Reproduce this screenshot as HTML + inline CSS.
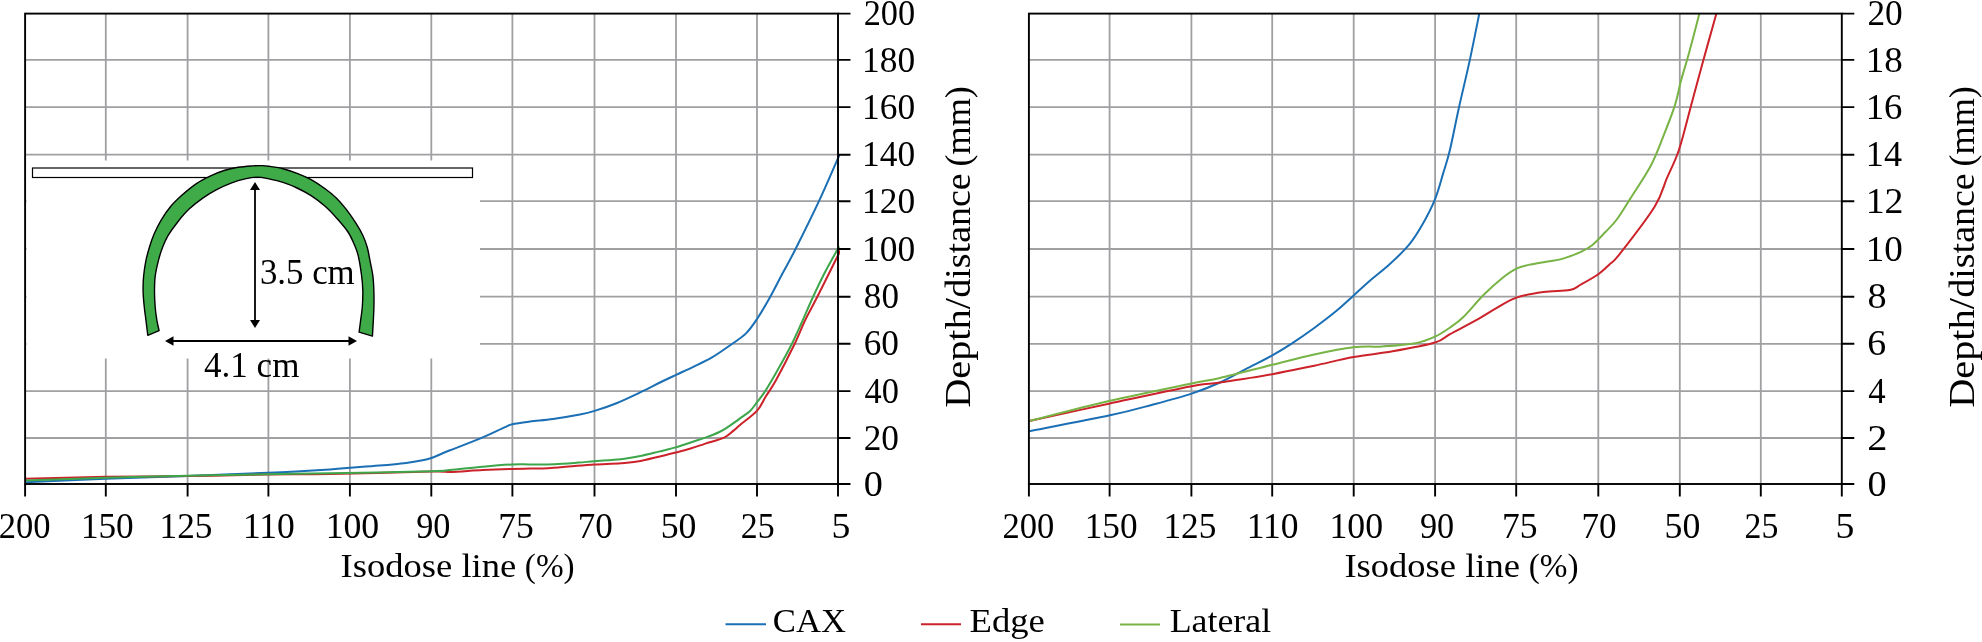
<!DOCTYPE html>
<html><head><meta charset="utf-8"><style>
html,body{margin:0;padding:0;background:#fff;width:1982px;height:642px;overflow:hidden}
svg{display:block;will-change:transform}
text{font-family:"Liberation Serif",serif}
</style></head><body>
<svg width="1982" height="642" viewBox="0 0 1982 642">
<rect width="1982" height="642" fill="#fff"/>
<path d="M105.80,13.6V484.0M187.60,13.6V484.0M268.40,13.6V484.0M349.90,13.6V484.0M431.30,13.6V484.0M512.40,13.6V484.0M594.50,13.6V484.0M676.00,13.6V484.0M757.00,13.6V484.0M25.1,438.00H838.0M25.1,391.15H838.0M25.1,343.80H838.0M25.1,296.70H838.0M25.1,249.00H838.0M25.1,201.20H838.0M25.1,154.70H838.0M25.1,107.10H838.0M25.1,59.90H838.0" stroke="#a0a0a3" stroke-width="1.8" fill="none"/>
<path d="M1109.60,13.6V484.0M1191.40,13.6V484.0M1272.20,13.6V484.0M1353.70,13.6V484.0M1435.10,13.6V484.0M1516.20,13.6V484.0M1598.30,13.6V484.0M1679.80,13.6V484.0M1760.80,13.6V484.0M1028.9,438.00H1841.8M1028.9,391.15H1841.8M1028.9,343.80H1841.8M1028.9,296.70H1841.8M1028.9,249.00H1841.8M1028.9,201.20H1841.8M1028.9,154.70H1841.8M1028.9,107.10H1841.8M1028.9,59.90H1841.8" stroke="#a0a0a3" stroke-width="1.8" fill="none"/>
<rect x="26.5" y="160.5" width="453.5" height="198" fill="#fff"/>
<clipPath id="cL"><rect x="25.1" y="13.6" width="814.9" height="470.4"/></clipPath>
<clipPath id="cR"><rect x="1028.9" y="13.6" width="812.8999999999999" height="470.4"/></clipPath>
<g clip-path="url(#cL)" fill="none" stroke-width="2.0" stroke-linejoin="round"><path d="M25.00,482.20 C38.50,481.63 78.83,479.83 106.00,478.80 C133.17,477.77 161.00,477.00 188.00,476.00 C215.00,475.00 244.33,473.90 268.00,472.80 C291.67,471.70 316.33,470.23 330.00,469.40 C343.67,468.57 341.82,468.43 350.00,467.80 C358.18,467.17 369.72,466.42 379.10,465.60 C388.48,464.78 399.03,463.80 406.30,462.90 C413.57,462.00 418.52,461.02 422.70,460.20 C426.88,459.38 426.85,459.65 431.40,458.00 C435.95,456.35 441.82,453.57 450.00,450.30 C458.18,447.03 471.42,442.22 480.50,438.40 C489.58,434.58 499.20,429.77 504.50,427.40 C509.80,425.03 508.05,425.18 512.30,424.20 C516.55,423.22 523.22,422.38 530.00,421.50 C536.78,420.62 544.67,420.07 553.00,418.90 C561.33,417.73 573.07,415.83 580.00,414.50 C586.93,413.17 588.53,412.78 594.60,410.90 C600.67,409.02 608.72,406.33 616.40,403.20 C624.08,400.07 633.27,395.63 640.70,392.10 C648.13,388.57 655.12,384.87 661.00,382.00 C666.88,379.13 670.60,377.43 676.00,374.90 C681.40,372.37 687.47,369.67 693.40,366.80 C699.33,363.93 705.53,361.25 711.60,357.70 C717.67,354.15 724.07,349.55 729.80,345.50 C735.53,341.45 741.38,337.95 746.00,333.40 C750.62,328.85 753.50,324.23 757.50,318.20 C761.50,312.17 765.82,304.68 770.00,297.20 C774.18,289.72 778.38,281.25 782.60,273.30 C786.82,265.35 789.22,261.57 795.30,249.50 C801.38,237.43 812.08,215.88 819.10,200.90 C826.12,185.92 834.08,167.08 837.40,159.60 C840.72,152.12 838.73,156.60 839.00,156.00" stroke="#1b6fb5"/><path d="M25.00,478.80 C38.50,478.47 78.83,477.25 106.00,476.80 C133.17,476.35 161.00,476.48 188.00,476.10 C215.00,475.72 244.33,474.83 268.00,474.50 C291.67,474.17 302.77,474.58 330.00,474.10 C357.23,473.62 411.40,471.97 431.40,471.60 C451.40,471.23 441.45,472.17 450.00,471.90 C458.55,471.63 472.32,470.50 482.70,470.00 C493.08,469.50 504.42,469.13 512.30,468.90 C520.18,468.67 524.02,468.70 530.00,468.60 C535.98,468.50 541.13,468.70 548.20,468.30 C555.27,467.90 564.68,466.83 572.40,466.20 C580.12,465.57 586.43,465.00 594.50,464.50 C602.57,464.00 613.38,463.73 620.80,463.20 C628.22,462.67 632.68,462.38 639.00,461.30 C645.32,460.22 652.57,458.17 658.70,456.70 C664.83,455.23 670.35,453.90 675.80,452.50 C681.25,451.10 686.47,449.78 691.40,448.30 C696.33,446.82 699.95,445.38 705.40,443.60 C710.85,441.82 719.42,439.77 724.10,437.60 C728.78,435.43 730.85,432.70 733.50,430.60 C736.15,428.50 736.10,428.28 740.00,425.00 C743.90,421.72 752.63,415.60 756.90,410.90 C761.17,406.20 762.40,401.95 765.60,396.80 C768.80,391.65 771.25,388.83 776.10,380.00 C780.95,371.17 789.87,353.77 794.70,343.80 C799.53,333.83 801.35,328.00 805.10,320.20 C808.85,312.40 811.58,308.08 817.20,297.00 C822.82,285.92 835.00,261.37 838.80,253.70 C842.60,246.03 839.80,251.45 840.00,251.00" stroke="#cc2229"/><path d="M25.00,480.40 C38.50,479.95 78.83,478.48 106.00,477.70 C133.17,476.92 161.00,476.27 188.00,475.70 C215.00,475.13 244.33,474.72 268.00,474.30 C291.67,473.88 302.77,473.70 330.00,473.20 C357.23,472.70 411.40,471.83 431.40,471.30 C451.40,470.77 441.45,470.77 450.00,470.00 C458.55,469.23 472.32,467.62 482.70,466.70 C493.08,465.78 504.42,464.88 512.30,464.50 C520.18,464.12 523.02,464.45 530.00,464.40 C536.98,464.35 546.13,464.50 554.20,464.20 C562.27,463.90 571.68,463.10 578.40,462.60 C585.12,462.10 587.43,461.77 594.50,461.20 C601.57,460.63 613.38,460.03 620.80,459.20 C628.22,458.37 632.68,457.47 639.00,456.20 C645.32,454.93 652.57,453.07 658.70,451.60 C664.83,450.13 670.35,448.97 675.80,447.40 C681.25,445.83 686.47,443.83 691.40,442.20 C696.33,440.57 700.73,439.30 705.40,437.60 C710.07,435.90 715.50,433.87 719.40,432.00 C723.30,430.13 725.37,428.67 728.80,426.40 C732.23,424.13 736.45,420.98 740.00,418.40 C743.55,415.82 747.28,413.57 750.10,410.90 C752.92,408.23 754.55,405.45 756.90,402.40 C759.25,399.35 761.70,396.33 764.20,392.60 C766.70,388.87 767.28,388.13 771.90,380.00 C776.52,371.87 785.05,357.63 791.90,343.80 C798.75,329.97 807.62,308.68 813.00,297.00 C818.38,285.32 820.13,281.62 824.20,273.70 C828.27,265.78 834.93,254.03 837.40,249.50 C839.87,244.97 838.73,247.00 839.00,246.50" stroke="#3da64a"/></g>
<g clip-path="url(#cR)" fill="none" stroke-width="2.0" stroke-linejoin="round"><path d="M1029.30,431.20 C1042.75,428.55 1089.48,419.72 1110.00,415.30 C1130.52,410.88 1138.80,408.32 1152.40,404.70 C1166.00,401.08 1180.33,397.30 1191.60,393.60 C1202.87,389.90 1210.98,386.58 1220.00,382.50 C1229.02,378.42 1236.98,373.62 1245.70,369.10 C1254.42,364.58 1264.58,359.68 1272.30,355.40 C1280.02,351.12 1285.02,347.97 1292.00,343.40 C1298.98,338.83 1306.78,333.43 1314.20,328.00 C1321.62,322.57 1329.92,316.23 1336.50,310.80 C1343.08,305.37 1348.18,300.37 1353.70,295.40 C1359.22,290.43 1363.67,286.13 1369.60,281.00 C1375.53,275.87 1382.75,270.62 1389.30,264.60 C1395.85,258.58 1403.45,251.45 1408.90,244.90 C1414.35,238.35 1417.63,232.93 1422.00,225.30 C1426.37,217.67 1431.55,207.83 1435.10,199.10 C1438.65,190.37 1440.83,181.08 1443.30,172.90 C1445.77,164.72 1447.32,160.78 1449.90,150.00 C1452.48,139.22 1455.48,123.18 1458.80,108.20 C1462.12,93.22 1466.37,75.97 1469.80,60.10 C1473.23,44.23 1477.37,23.02 1479.40,13.00 C1481.43,2.98 1481.57,2.17 1482.00,0.00" stroke="#1b6fb5"/><path d="M1029.30,421.10 C1042.75,418.15 1082.95,409.22 1110.00,403.40 C1137.05,397.58 1173.27,389.68 1191.60,386.20 C1209.93,382.72 1206.55,384.50 1220.00,382.50 C1233.45,380.50 1256.60,377.00 1272.30,374.20 C1288.00,371.40 1300.63,368.55 1314.20,365.70 C1327.77,362.85 1340.63,359.50 1353.70,357.10 C1366.77,354.70 1379.03,353.73 1392.60,351.30 C1406.17,348.87 1425.53,345.37 1435.10,342.50 C1444.67,339.63 1442.83,338.00 1450.00,334.10 C1457.17,330.20 1470.30,323.47 1478.10,319.10 C1485.90,314.73 1490.42,311.48 1496.80,307.90 C1503.18,304.32 1508.62,300.25 1516.40,297.60 C1524.18,294.95 1534.62,293.25 1543.50,292.00 C1552.38,290.75 1563.47,291.35 1569.70,290.10 C1575.93,288.85 1576.13,287.15 1580.90,284.50 C1585.67,281.85 1593.62,277.47 1598.30,274.20 C1602.98,270.93 1605.38,268.32 1609.00,264.90 C1612.62,261.48 1612.40,263.38 1620.00,253.70 C1627.60,244.02 1646.80,219.35 1654.60,206.80 C1662.40,194.25 1662.75,187.87 1666.80,178.40 C1670.85,168.93 1674.85,162.17 1678.90,150.00 C1682.95,137.83 1687.05,120.27 1691.10,105.40 C1695.15,90.53 1699.02,76.00 1703.20,60.80 C1707.38,45.60 1713.48,24.00 1716.20,14.20 C1718.92,4.40 1718.95,4.03 1719.50,2.00" stroke="#cc2229"/><path d="M1029.30,421.10 C1042.75,417.72 1082.95,407.07 1110.00,400.80 C1137.05,394.53 1173.27,387.30 1191.60,383.50 C1209.93,379.70 1206.55,381.12 1220.00,378.00 C1233.45,374.88 1256.60,368.72 1272.30,364.80 C1288.00,360.88 1300.63,357.42 1314.20,354.50 C1327.77,351.58 1342.28,348.65 1353.70,347.30 C1365.12,345.95 1372.40,347.08 1382.70,346.40 C1393.00,345.72 1406.77,344.83 1415.50,343.20 C1424.23,341.57 1429.35,339.22 1435.10,336.60 C1440.85,333.98 1445.33,330.72 1450.00,327.50 C1454.67,324.28 1457.48,322.75 1463.10,317.30 C1468.72,311.85 1477.15,301.35 1483.70,294.80 C1490.25,288.25 1496.95,282.37 1502.40,278.00 C1507.85,273.63 1512.05,270.78 1516.40,268.60 C1520.75,266.42 1523.35,266.08 1528.50,264.90 C1533.65,263.72 1541.68,262.50 1547.30,261.50 C1552.92,260.50 1556.60,260.52 1562.20,258.90 C1567.80,257.28 1575.92,254.08 1580.90,251.80 C1585.88,249.52 1588.05,248.47 1592.10,245.20 C1596.15,241.93 1601.15,236.40 1605.20,232.20 C1609.25,228.00 1612.22,225.60 1616.40,220.00 C1620.58,214.40 1624.62,207.57 1630.30,198.60 C1635.98,189.63 1645.10,176.33 1650.50,166.20 C1655.90,156.07 1658.63,147.93 1662.70,137.80 C1666.77,127.67 1671.87,114.85 1674.90,105.40 C1677.93,95.95 1678.53,89.88 1680.90,81.10 C1683.27,72.32 1686.05,63.85 1689.10,52.70 C1692.15,41.55 1697.05,22.65 1699.20,14.20 C1701.35,5.75 1701.53,4.03 1702.00,2.00" stroke="#78b345"/></g>
<path d="M25.10,484.0V496.5M105.80,484.0V496.5M187.60,484.0V496.5M268.40,484.0V496.5M349.90,484.0V496.5M431.30,484.0V496.5M512.40,484.0V496.5M594.50,484.0V496.5M676.00,484.0V496.5M757.00,484.0V496.5M838.00,484.0V496.5M838.0,484.00H850.5M838.0,438.00H850.5M838.0,391.15H850.5M838.0,343.80H850.5M838.0,296.70H850.5M838.0,249.00H850.5M838.0,201.20H850.5M838.0,154.70H850.5M838.0,107.10H850.5M838.0,59.90H850.5M838.0,13.60H850.5" stroke="#000" stroke-width="1.9" fill="none"/>
<rect x="25.1" y="13.6" width="812.90" height="470.4" stroke="#000" stroke-width="1.9" fill="none"/>
<path d="M1028.90,484.0V496.5M1109.60,484.0V496.5M1191.40,484.0V496.5M1272.20,484.0V496.5M1353.70,484.0V496.5M1435.10,484.0V496.5M1516.20,484.0V496.5M1598.30,484.0V496.5M1679.80,484.0V496.5M1760.80,484.0V496.5M1841.80,484.0V496.5M1841.8,484.00H1854.3M1841.8,438.00H1854.3M1841.8,391.15H1854.3M1841.8,343.80H1854.3M1841.8,296.70H1854.3M1841.8,249.00H1854.3M1841.8,201.20H1854.3M1841.8,154.70H1854.3M1841.8,107.10H1854.3M1841.8,59.90H1854.3M1841.8,13.60H1854.3" stroke="#000" stroke-width="1.9" fill="none"/>
<rect x="1028.9" y="13.6" width="812.90" height="470.4" stroke="#000" stroke-width="1.9" fill="none"/>
<rect x="32.5" y="168" width="440" height="9.5" fill="#fff" stroke="#000" stroke-width="1.2"/>
<path d="M147.80,335.30 C147.48,332.72 146.48,324.47 145.90,319.80 C145.32,315.13 144.77,311.98 144.30,307.30 C143.83,302.62 143.22,296.88 143.10,291.70 C142.98,286.52 143.13,281.38 143.60,276.20 C144.07,271.02 144.92,265.47 145.90,260.60 C146.88,255.73 148.15,251.38 149.50,247.00 C150.85,242.62 152.08,238.75 154.00,234.30 C155.92,229.85 158.20,224.97 161.00,220.30 C163.80,215.63 167.28,210.52 170.80,206.30 C174.32,202.08 177.88,198.75 182.10,195.00 C186.32,191.25 191.43,186.95 196.10,183.80 C200.77,180.65 205.43,178.32 210.10,176.10 C214.77,173.88 219.43,171.97 224.10,170.50 C228.77,169.03 233.42,168.07 238.10,167.30 C242.78,166.53 248.22,166.18 252.20,165.90 C256.18,165.62 259.20,165.53 262.00,165.60 C264.80,165.67 265.50,165.78 269.00,166.30 C272.50,166.82 278.32,167.53 283.00,168.70 C287.68,169.87 292.42,171.48 297.10,173.30 C301.78,175.12 306.43,177.03 311.10,179.60 C315.77,182.17 320.90,185.65 325.10,188.70 C329.30,191.75 332.80,194.50 336.30,197.90 C339.80,201.30 342.83,204.90 346.10,209.10 C349.37,213.30 353.08,218.67 355.90,223.10 C358.72,227.53 361.10,231.63 363.00,235.70 C364.90,239.77 366.13,243.35 367.30,247.50 C368.47,251.65 369.07,255.82 370.00,260.60 C370.93,265.38 372.25,271.02 372.90,276.20 C373.55,281.38 373.73,286.52 373.90,291.70 C374.07,296.88 374.02,302.10 373.90,307.30 C373.78,312.50 373.45,318.10 373.20,322.90 C372.95,327.70 372.53,333.90 372.40,336.10 L359.10,332.20 C359.37,330.13 360.17,324.00 360.70,319.80 C361.23,315.60 361.95,311.97 362.30,307.00 C362.65,302.03 362.93,295.33 362.80,290.00 C362.67,284.67 362.25,280.67 361.50,275.00 C360.75,269.33 359.47,261.00 358.30,256.00 C357.13,251.00 356.22,249.00 354.50,245.00 C352.78,241.00 350.92,236.42 348.00,232.00 C345.08,227.58 340.82,222.78 337.00,218.50 C333.18,214.22 329.42,210.10 325.10,206.30 C320.78,202.50 315.77,198.75 311.10,195.70 C306.43,192.65 301.78,190.22 297.10,188.00 C292.42,185.78 287.68,183.92 283.00,182.40 C278.32,180.88 273.20,179.78 269.00,178.90 C264.80,178.02 261.78,177.10 257.80,177.10 C253.82,177.10 249.55,177.90 245.10,178.90 C240.65,179.90 235.77,181.35 231.10,183.10 C226.43,184.85 221.77,186.93 217.10,189.40 C212.43,191.87 207.77,194.62 203.10,197.90 C198.43,201.18 193.30,205.13 189.10,209.10 C184.90,213.07 181.42,217.27 177.90,221.70 C174.38,226.13 170.57,231.40 168.00,235.70 C165.43,240.00 164.10,243.35 162.50,247.50 C160.90,251.65 159.62,255.82 158.40,260.60 C157.18,265.38 155.85,271.02 155.20,276.20 C154.55,281.38 154.50,286.52 154.50,291.70 C154.50,296.88 154.82,302.62 155.20,307.30 C155.58,311.98 156.15,315.90 156.80,319.80 C157.45,323.70 158.72,328.88 159.10,330.70 Z" fill="#3fab48" stroke="#000" stroke-width="1.4" stroke-linejoin="round"/>
<path d="M255,189V321" stroke="#000" stroke-width="1.8"/>
<path d="M255,182 L250,190 L260,190 Z M255,328 L250,320 L260,320 Z" fill="#000"/>
<path d="M172,341H350" stroke="#000" stroke-width="1.8"/>
<path d="M165,341 L173.5,336.3 L173.5,345.7 Z M357,341 L348.5,336.3 L348.5,345.7 Z" fill="#000"/>
<g font-family="Liberation Serif" fill="#000"><text transform="translate(863.74,495.60) scale(1.0909,1)" font-size="35.04">0</text><text transform="translate(1867.54,495.60) scale(1.0909,1)" font-size="35.04">0</text><text transform="translate(863.65,449.60) scale(1.0073,1)" font-size="35.04">20</text><text transform="translate(1867.22,449.60) scale(1.1533,1)" font-size="35.04">2</text><text transform="translate(864.53,402.75) scale(0.9812,1)" font-size="35.04">40</text><text transform="translate(1868.32,402.75) scale(0.9946,1)" font-size="35.04">4</text><text transform="translate(863.69,355.40) scale(1.0062,1)" font-size="35.04">60</text><text transform="translate(1867.37,355.40) scale(1.0821,1)" font-size="35.04">6</text><text transform="translate(863.86,308.30) scale(1.0009,1)" font-size="35.04">80</text><text transform="translate(1867.54,308.30) scale(1.0909,1)" font-size="35.04">8</text><text transform="translate(862.09,260.60) scale(1.0094,1)" font-size="35.04">100</text><text transform="translate(1865.74,260.60) scale(1.0579,1)" font-size="35.04">10</text><text transform="translate(862.09,212.80) scale(1.0094,1)" font-size="35.04">120</text><text transform="translate(1865.68,212.80) scale(1.0790,1)" font-size="35.04">12</text><text transform="translate(862.09,166.30) scale(1.0094,1)" font-size="35.04">140</text><text transform="translate(1865.82,166.30) scale(1.0314,1)" font-size="35.04">14</text><text transform="translate(862.09,118.70) scale(1.0094,1)" font-size="35.04">160</text><text transform="translate(1865.77,118.70) scale(1.0480,1)" font-size="35.04">16</text><text transform="translate(862.09,71.50) scale(1.0094,1)" font-size="35.04">180</text><text transform="translate(1865.74,71.50) scale(1.0579,1)" font-size="35.04">18</text><text transform="translate(863.69,25.20) scale(0.9782,1)" font-size="35.04">200</text><text transform="translate(1867.45,25.20) scale(1.0073,1)" font-size="35.04">20</text><text transform="translate(-1.32,537.60) scale(0.9778,1)" font-size="35.34">200</text><text transform="translate(80.90,537.60) scale(0.9967,1)" font-size="35.34">150</text><text transform="translate(159.60,537.60) scale(0.9974,1)" font-size="35.34">125</text><text transform="translate(242.88,537.60) scale(1.0049,1)" font-size="35.34">110</text><text transform="translate(325.66,537.60) scale(1.0111,1)" font-size="35.34">100</text><text transform="translate(416.20,537.60) scale(0.9678,1)" font-size="35.34">90</text><text transform="translate(498.16,537.60) scale(1.0053,1)" font-size="35.34">75</text><text transform="translate(577.69,537.60) scale(0.9916,1)" font-size="35.34">70</text><text transform="translate(660.72,537.60) scale(1.0112,1)" font-size="35.34">50</text><text transform="translate(740.81,537.60) scale(0.9566,1)" font-size="35.34">25</text><text transform="translate(831.61,537.60) scale(1.0677,1)" font-size="35.34">5</text><text transform="translate(340.58,577.10) scale(1.0689,1)" font-size="34.21">Isodose line</text><text transform="translate(524.84,577.10) scale(0.9715,1)" font-size="34.21">(%)</text><text transform="translate(970.20,407.86) rotate(-90) scale(1.1152,1)" font-size="36.20">Depth/</text><text transform="translate(970.20,297.77) rotate(-90) scale(1.0498,1)" font-size="36.20">distance</text><text transform="translate(970.20,166.49) rotate(-90) scale(0.9983,1)" font-size="36.20">(mm)</text><text transform="translate(1002.48,537.60) scale(0.9778,1)" font-size="35.34">200</text><text transform="translate(1084.70,537.60) scale(0.9967,1)" font-size="35.34">150</text><text transform="translate(1163.40,537.60) scale(0.9974,1)" font-size="35.34">125</text><text transform="translate(1246.68,537.60) scale(1.0049,1)" font-size="35.34">110</text><text transform="translate(1329.46,537.60) scale(1.0111,1)" font-size="35.34">100</text><text transform="translate(1420.00,537.60) scale(0.9678,1)" font-size="35.34">90</text><text transform="translate(1501.96,537.60) scale(1.0053,1)" font-size="35.34">75</text><text transform="translate(1581.49,537.60) scale(0.9916,1)" font-size="35.34">70</text><text transform="translate(1664.52,537.60) scale(1.0112,1)" font-size="35.34">50</text><text transform="translate(1744.61,537.60) scale(0.9566,1)" font-size="35.34">25</text><text transform="translate(1835.41,537.60) scale(1.0677,1)" font-size="35.34">5</text><text transform="translate(1344.38,577.10) scale(1.0689,1)" font-size="34.21">Isodose line</text><text transform="translate(1528.64,577.10) scale(0.9715,1)" font-size="34.21">(%)</text><text transform="translate(1974.00,407.86) rotate(-90) scale(1.1152,1)" font-size="36.20">Depth/</text><text transform="translate(1974.00,297.77) rotate(-90) scale(1.0498,1)" font-size="36.20">distance</text><text transform="translate(1974.00,166.49) rotate(-90) scale(0.9983,1)" font-size="36.20">(mm)</text><text transform="translate(772.78,632.00) scale(0.9993,1)" font-size="34.67">CAX</text><text transform="translate(969.54,632.00) scale(1.0575,1)" font-size="34.67">Edge</text><text transform="translate(1169.67,632.00) scale(1.0347,1)" font-size="34.67">Lateral</text><text transform="translate(204.02,377.00) scale(0.9863,1)" font-size="35.55">4.1 cm</text><text transform="translate(259.93,283.70) scale(0.9773,1)" font-size="35.64">3.5 cm</text></g>
<path d="M725.5,624.2H766" stroke="#1b6fb5" stroke-width="2.1"/>
<path d="M921,624.2H961" stroke="#cc2229" stroke-width="2.1"/>
<path d="M1120,624.5H1160" stroke="#78b345" stroke-width="2.1"/>
</svg></body></html>
